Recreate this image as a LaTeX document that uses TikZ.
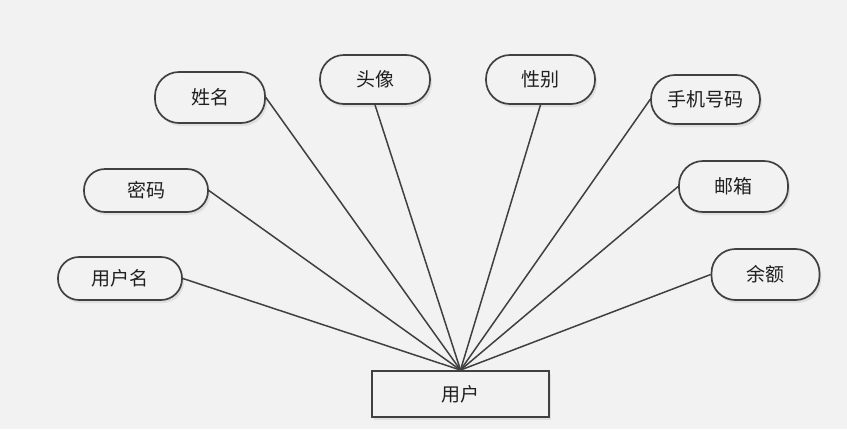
\documentclass[tikz,border=0pt]{standalone}
\usepackage{fontspec}
\newfontfamily\cjk{Noto Sans CJK SC}
\usetikzlibrary{shadows}
\definecolor{bg}{HTML}{F2F2F2}
\definecolor{ln}{HTML}{404040}
\begin{document}
\begin{tikzpicture}[x=1pt,y=-1pt,
  attr/.style={draw=ln, line width=1.7pt, fill=bg, rounded corners=24pt,
    font=\cjk\fontsize{19}{19}\selectfont, text=black!88, inner sep=0pt,
    drop shadow={shadow xshift=2pt, shadow yshift=-3pt, opacity=0.08, fill=black}},
  attrs/.style={attr, rounded corners=21pt},
  ent/.style={draw=ln, line width=1.9pt, fill=bg,
    font=\cjk\fontsize{19}{19}\selectfont, text=black!88, inner sep=0pt,
    drop shadow={shadow xshift=2pt, shadow yshift=-3pt, opacity=0.08, fill=black}},
  conn/.style={draw=ln, line width=1.5pt}]
\fill[bg] (0,0) rectangle (847,429);
\useasboundingbox (0,0) rectangle (847,429);
\node[attr, minimum width=110pt, minimum height=51pt] (xm) at (210,97.5) {姓名};
\node[attr, minimum width=110pt, minimum height=49pt] (tx) at (375,79.5) {头像};
\node[attr, minimum width=109pt, minimum height=49pt] (xb) at (540.5,79.5) {性别};
\node[attr, minimum width=109pt, minimum height=49pt] (sj) at (705.5,99.5) {手机号码};
\node[attrs, minimum width=124pt, minimum height=43pt] (mm) at (146,190.5) {密码};
\node[attr, minimum width=109pt, minimum height=51pt] (yx) at (733.5,186.5) {邮箱};
\node[attrs, minimum width=124pt, minimum height=43pt] (yhm) at (120,278.5) {用户名};
\node[attr, minimum width=108pt, minimum height=51pt] (ye) at (765.5,274.5) {余额};
\node[ent, minimum width=177pt, minimum height=46pt] (yh) at (460.5,394) {用户};
\draw[conn] (yh.north) -- (xm.east);
\draw[conn] (yh.north) -- (tx.south);
\draw[conn] (yh.north) -- (xb.south);
\draw[conn] (yh.north) -- (sj.west);
\draw[conn] (yh.north) -- (mm.east);
\draw[conn] (yh.north) -- (yx.west);
\draw[conn] (yh.north) -- (yhm.east);
\draw[conn] (yh.north) -- (ye.west);
\end{tikzpicture}
\end{document}
